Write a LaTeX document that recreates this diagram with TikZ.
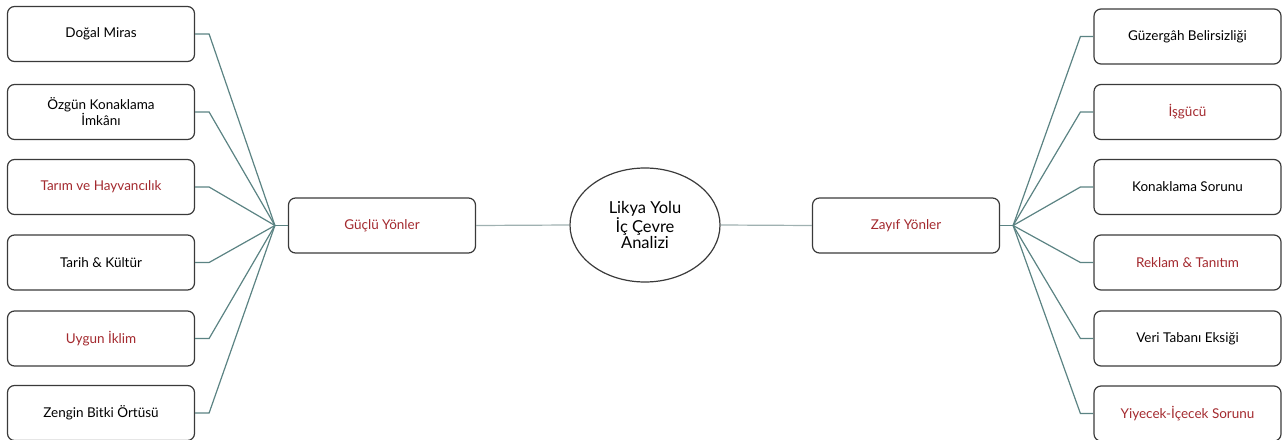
\documentclass[tikz,border=0pt]{standalone}
\usepackage{fontspec}
\setmainfont{Lato}
\usetikzlibrary{shapes.geometric}
\definecolor{boxline}{HTML}{3A3A3A}
\definecolor{linkline}{HTML}{5B8383}
\definecolor{midline}{HTML}{9FB1B1}
\definecolor{redtext}{HTML}{A3292E}
\tikzset{%
  leaf/.style   = {draw=boxline, line width=1.2pt, rectangle, rounded corners=7pt,
    minimum width=187pt, minimum height=55pt, align=center,
    font=\fontsize{13.5}{16}\selectfont, text=black}, % Item box
  redleaf/.style = {leaf, text=redtext}, % Item box, red text
  hub/.style    = {leaf, text=redtext}, % Side box
  core/.style   = {draw=boxline, line width=1.2pt, ellipse, minimum width=150pt,
    minimum height=114pt, align=center, inner sep=0pt,
    font=\fontsize{16.5}{15}\selectfont}, % Centre
  link/.style   = {draw=linkline, line width=1.2pt}, % Branch
  midlink/.style = {draw=midline, line width=1.2pt} % Stem
}

\begin{document}
\begin{tikzpicture}[x=1pt, y=-1pt]
        \useasboundingbox (0,0) rectangle (1284,439);
        % centre and sides
        \node [core, name=Likya] at (645,225) {Likya Yolu\\İç Çevre\\Analizi};
        \node [hub, name=Guclu] at (382,225.5) {Güçlü Yönler};
        \node [hub, name=Zayif] at (906,225.5) {Zayıf Yönler};
        \draw[midlink] (Guclu.east) -- (Likya.west);
        \draw[midlink] (Likya.east) -- (Zayif.west);
        % strengths
        \node [leaf, name=Dogal] at (101,34) {Doğal Miras};
        \node [leaf, name=Ozgun] at (101,112) {Özgün Konaklama\\İmkânı};
        \node [redleaf, name=Tarim] at (101,187) {Tarım ve Hayvancılık};
        \node [leaf, name=Tarih] at (101,262.5) {Tarih \& Kültür};
        \node [redleaf, name=Iklim] at (101,338.5) {Uygun İklim};
        \node [leaf, name=Bitki] at (101,413) {Zengin Bitki Örtüsü};
        % weaknesses
        \node [leaf, name=Guzergah] at (1187.5,36.5) {Güzergâh Belirsizliği};
        \node [redleaf, name=Isgucu] at (1187.5,112) {İşgücü};
        \node [leaf, name=Konak] at (1187.5,187) {Konaklama Sorunu};
        \node [redleaf, name=Reklam] at (1187.5,262.5) {Reklam \& Tanıtım};
        \node [leaf, name=Veri] at (1187.5,338.5) {Veri Tabanı Eksiği};
        \node [redleaf, name=Yiyecek] at (1187.5,413.5) {Yiyecek-İçecek Sorunu};
        \draw[link] (Guclu.west) -- ++(-13,0) coordinate (hubL);
        \draw[link] (Zayif.east) -- ++(13,0) coordinate (hubR);
        \draw[link] (hubL) -- ([xshift=14pt]Dogal.east) -- (Dogal.east);
        \draw[link] (hubL) -- ([xshift=14pt]Ozgun.east) -- (Ozgun.east);
        \draw[link] (hubL) -- ([xshift=14pt]Tarim.east) -- (Tarim.east);
        \draw[link] (hubL) -- ([xshift=14pt]Tarih.east) -- (Tarih.east);
        \draw[link] (hubL) -- ([xshift=14pt]Iklim.east) -- (Iklim.east);
        \draw[link] (hubL) -- ([xshift=14pt]Bitki.east) -- (Bitki.east);
        \draw[link] (hubR) -- ([xshift=-13pt]Guzergah.west) -- (Guzergah.west);
        \draw[link] (hubR) -- ([xshift=-13pt]Isgucu.west) -- (Isgucu.west);
        \draw[link] (hubR) -- ([xshift=-13pt]Konak.west) -- (Konak.west);
        \draw[link] (hubR) -- ([xshift=-13pt]Reklam.west) -- (Reklam.west);
        \draw[link] (hubR) -- ([xshift=-13pt]Veri.west) -- (Veri.west);
        \draw[link] (hubR) -- ([xshift=-13pt]Yiyecek.west) -- (Yiyecek.west);
    \end{tikzpicture}
\end{document}
